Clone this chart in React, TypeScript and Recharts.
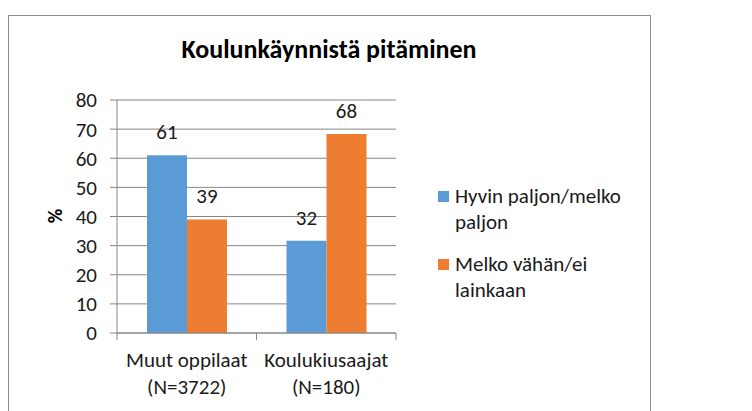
import React from 'react';
import { BarChart, Bar, XAxis, YAxis, CartesianGrid, LabelList } from 'recharts';

const title = 'Koulunkäynnistä pitäminen';
const yAxisTitle = '%';
const categories = ['Muut oppilaat (N=3722)', 'Koulukiusaajat (N=180)'];
const categoryLine1 = ['Muut oppilaat', 'Koulukiusaajat'];
const categoryLine2 = ['(N=3722)', '(N=180)'];
const seriesNames = ['Hyvin paljon/melko paljon', 'Melko vähän/ei lainkaan'];
const seriesA = [61, 31.7];
const seriesB = [39, 68.3];
const yTicks = [0, 10, 20, 30, 40, 50, 60, 70, 80];
const colors = ['#5B9BD5', '#ED7D31'];

const data = categories.map((c, i) => ({ name: c, a: seriesA[i], b: seriesB[i] }));

const FONT = 'Carlito, Lato, sans-serif';
const GRAY = '#868686';
const TEXT = '#1a1a1a';
const FS = 21;

const XTick = (props: any) => {
  const { x, y, payload, index, visibleTicksCount } = props;
  const half = payload && payload.offset ? payload.offset : 0;
  const isLast = index === (visibleTicksCount ?? categories.length) - 1;
  return (
    <g>
      <line x1={x - half} x2={x - half} y1={y} y2={y + 7} stroke={GRAY} strokeWidth={1} />
      {isLast && <line x1={x + half} x2={x + half} y1={y} y2={y + 7} stroke={GRAY} strokeWidth={1} />}
      <text x={x} y={y + 27} textAnchor="middle" dominantBaseline="central" fontFamily={FONT} fontSize={FS} fill={TEXT}>
        {categoryLine1[index]}
      </text>
      <text x={x} y={y + 54} textAnchor="middle" dominantBaseline="central" fontFamily={FONT} fontSize={FS} fill={TEXT}>
        {categoryLine2[index]}
      </text>
    </g>
  );
};

const ValueLabel = (props: any) => {
  const { x, y, width, value } = props;
  return (
    <text x={x + width / 2} y={y - 23} textAnchor="middle" dominantBaseline="central" fontFamily={FONT} fontSize={FS} fill={TEXT}>
      {Math.round(value)}
    </text>
  );
};

export default function App() {
  return (
    <div style={{ position: 'absolute', left: 0, top: 0, width: 752, height: 411, background: '#fff', overflow: 'hidden' }}>
      <div style={{ position: 'absolute', left: 8, top: 15, width: 643, height: 400, border: '1px solid #8a8a8a', borderBottom: 'none', boxSizing: 'border-box' }} />
      <div style={{ position: 'absolute', left: 0, top: 0 }}>
        <BarChart
          width={752}
          height={411}
          data={data}
          margin={{ top: 100, right: 356, bottom: 18, left: 57 }}
          barGap={0}
          barCategoryGap={0}
        >
          <CartesianGrid vertical={false} stroke={GRAY} strokeWidth={1} />
          <XAxis
            dataKey="name"
            height={60}
            axisLine={{ stroke: GRAY }}
            tickLine={false}
            tickSize={0}
            tickMargin={0}
            interval={0}
            tick={<XTick />}
          />
          <YAxis
            width={60}
            domain={[0, 80]}
            ticks={yTicks}
            interval={0}
            axisLine={{ stroke: GRAY }}
            tickLine={{ stroke: GRAY }}
            tickSize={7}
            tickMargin={13}
            tick={{ fontFamily: FONT, fontSize: FS, fill: TEXT }}
          />
          <Bar dataKey="a" name={seriesNames[0]} fill={colors[0]} barSize={40} isAnimationActive={false}>
            <LabelList dataKey="a" content={<ValueLabel />} />
          </Bar>
          <Bar dataKey="b" name={seriesNames[1]} fill={colors[1]} barSize={40} isAnimationActive={false}>
            <LabelList dataKey="b" content={<ValueLabel />} />
          </Bar>
        </BarChart>
      </div>
      <div style={{ position: 'absolute', left: 438, top: 183, fontFamily: FONT, fontSize: FS, color: TEXT, lineHeight: '26px' }}>
        {seriesNames.map((n, i) => (
          <div key={n} style={{ display: 'flex', alignItems: 'flex-start', marginBottom: i === 0 ? 16 : 0 }}>
            <div style={{ width: 11, height: 11, background: colors[i], marginTop: 8, marginRight: 6, flex: '0 0 auto' }} />
            <div style={{ width: 185 }}>{n}</div>
          </div>
        ))}
      </div>
      <svg width={752} height={411} style={{ position: 'absolute', left: 0, top: 0, pointerEvents: 'none' }}>
        <text x={329} y={58} textAnchor="middle" fontFamily={FONT} fontWeight="bold" fontSize={26} fill="#000">
          {title}
        </text>
        <text x={55} y={216} textAnchor="middle" dominantBaseline="central" transform="rotate(-90 55 216)" fontFamily={FONT} fontWeight="bold" fontSize={20} fill="#000">
          {yAxisTitle}
        </text>
      </svg>
    </div>
  );
}
